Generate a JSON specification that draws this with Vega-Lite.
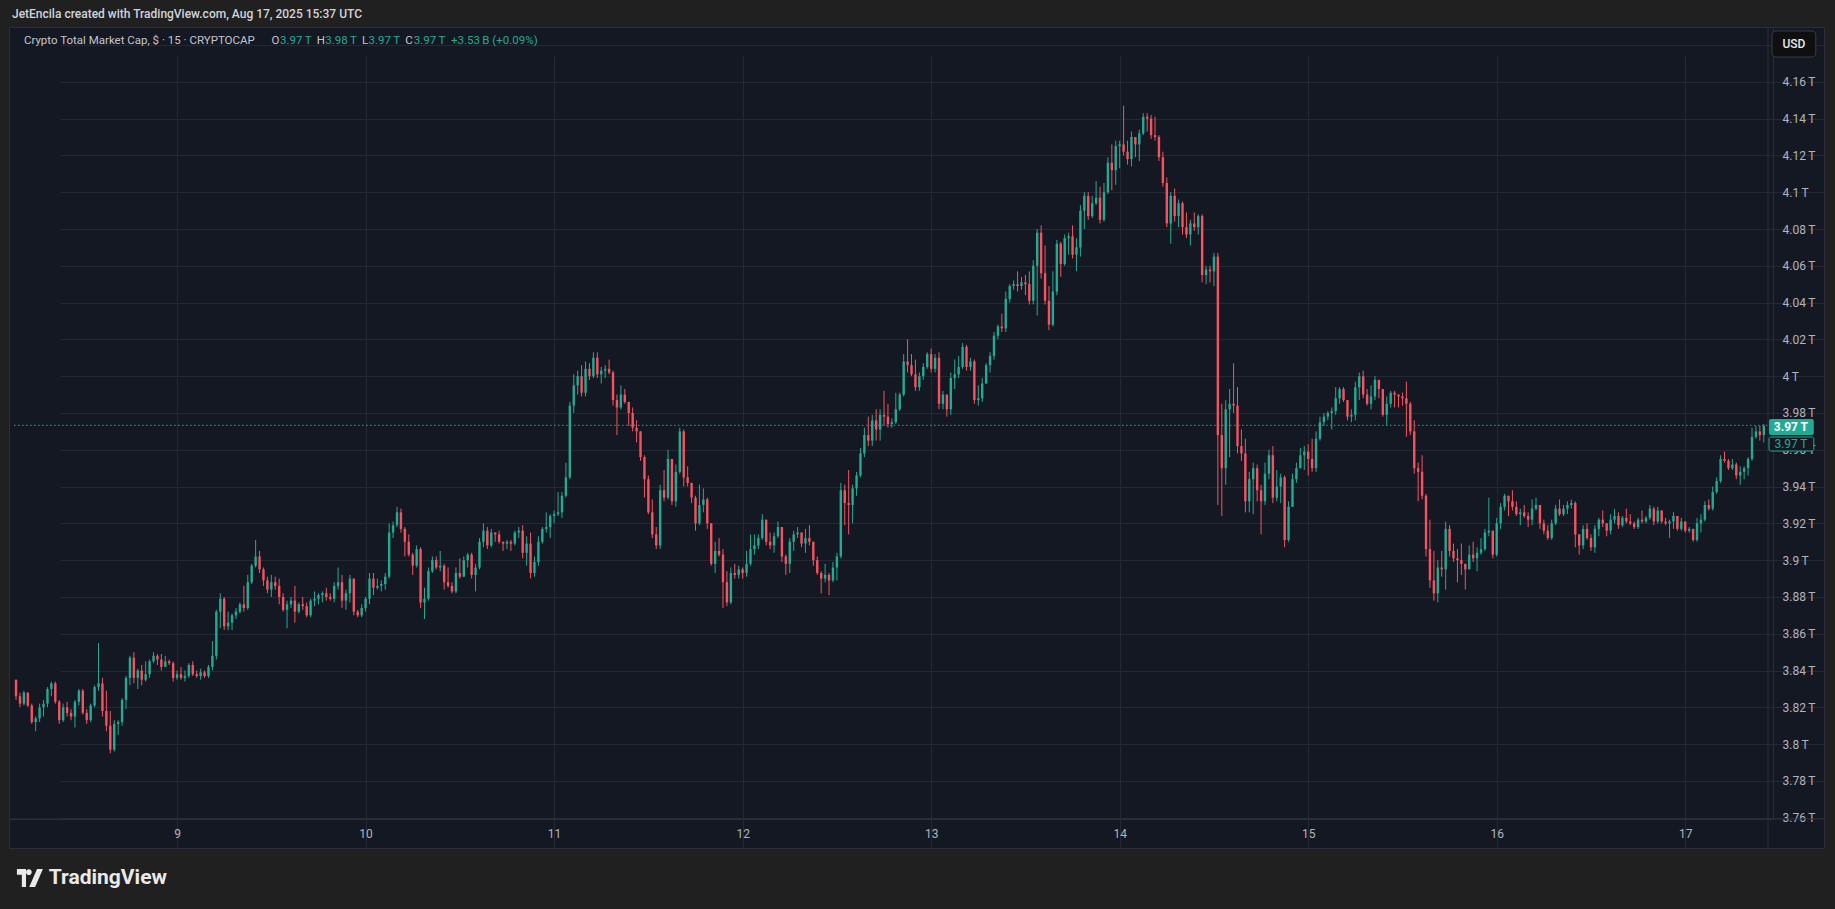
{
  "$schema": "https://vega.github.io/schema/vega-lite/v6.json",
  "autosize": {"type": "none"},
  "width": 1815,
  "height": 821,
  "padding": {"left": 9, "top": 27, "right": 11, "bottom": 61},
  "background": "#202020",
  "title": {
    "text": "JetEncila created with TradingView.com, Aug 17, 2025 15:37 UTC",
    "anchor": "start",
    "frame": "group",
    "offset": 6,
    "dx": 3,
    "font": "Roboto",
    "fontSize": 12,
    "fontWeight": 500,
    "color": "#d1d4dc"
  },
  "config": {
    "font": "Roboto",
    "view": {"fill": "#141823", "stroke": "#2a2e39", "strokeWidth": 1}
  },
  "datasets": {
    "candles": [
      {"day":8.1458,"o":3.835,"h":3.835,"l":3.824,"c":3.826},
      {"day":8.1667,"o":3.826,"h":3.828,"l":3.820,"c":3.822},
      {"day":8.1875,"o":3.822,"h":3.829,"l":3.821,"c":3.828},
      {"day":8.2083,"o":3.828,"h":3.828,"l":3.820,"c":3.821},
      {"day":8.2292,"o":3.821,"h":3.822,"l":3.811,"c":3.812},
      {"day":8.25,"o":3.812,"h":3.815,"l":3.807,"c":3.814},
      {"day":8.2708,"o":3.814,"h":3.822,"l":3.812,"c":3.820},
      {"day":8.2917,"o":3.820,"h":3.824,"l":3.815,"c":3.822},
      {"day":8.3125,"o":3.822,"h":3.831,"l":3.820,"c":3.830},
      {"day":8.3333,"o":3.830,"h":3.834,"l":3.826,"c":3.833},
      {"day":8.3542,"o":3.833,"h":3.834,"l":3.822,"c":3.823},
      {"day":8.375,"o":3.823,"h":3.824,"l":3.811,"c":3.813},
      {"day":8.3958,"o":3.813,"h":3.822,"l":3.812,"c":3.820},
      {"day":8.4167,"o":3.820,"h":3.823,"l":3.815,"c":3.817},
      {"day":8.4375,"o":3.817,"h":3.819,"l":3.813,"c":3.815},
      {"day":8.4583,"o":3.815,"h":3.824,"l":3.809,"c":3.823},
      {"day":8.4792,"o":3.823,"h":3.830,"l":3.821,"c":3.829},
      {"day":8.5,"o":3.829,"h":3.830,"l":3.816,"c":3.817},
      {"day":8.5208,"o":3.817,"h":3.819,"l":3.811,"c":3.813},
      {"day":8.5417,"o":3.813,"h":3.822,"l":3.812,"c":3.821},
      {"day":8.5625,"o":3.821,"h":3.832,"l":3.820,"c":3.831},
      {"day":8.5833,"o":3.831,"h":3.855,"l":3.829,"c":3.833},
      {"day":8.6042,"o":3.833,"h":3.836,"l":3.815,"c":3.818},
      {"day":8.625,"o":3.818,"h":3.829,"l":3.807,"c":3.810},
      {"day":8.6458,"o":3.810,"h":3.818,"l":3.795,"c":3.797},
      {"day":8.6667,"o":3.797,"h":3.813,"l":3.796,"c":3.811},
      {"day":8.6875,"o":3.811,"h":3.813,"l":3.805,"c":3.812},
      {"day":8.7083,"o":3.812,"h":3.825,"l":3.810,"c":3.824},
      {"day":8.7292,"o":3.824,"h":3.837,"l":3.819,"c":3.836},
      {"day":8.75,"o":3.836,"h":3.848,"l":3.832,"c":3.847},
      {"day":8.7708,"o":3.847,"h":3.850,"l":3.833,"c":3.836},
      {"day":8.7917,"o":3.836,"h":3.841,"l":3.830,"c":3.840},
      {"day":8.8125,"o":3.840,"h":3.843,"l":3.832,"c":3.835},
      {"day":8.8333,"o":3.835,"h":3.845,"l":3.834,"c":3.838},
      {"day":8.8542,"o":3.838,"h":3.846,"l":3.836,"c":3.845},
      {"day":8.875,"o":3.845,"h":3.850,"l":3.844,"c":3.848},
      {"day":8.8958,"o":3.848,"h":3.849,"l":3.843,"c":3.846},
      {"day":8.9167,"o":3.846,"h":3.849,"l":3.840,"c":3.842},
      {"day":8.9375,"o":3.842,"h":3.848,"l":3.842,"c":3.845},
      {"day":8.9583,"o":3.845,"h":3.846,"l":3.843,"c":3.844},
      {"day":8.9792,"o":3.844,"h":3.845,"l":3.834,"c":3.836},
      {"day":9.0,"o":3.836,"h":3.840,"l":3.835,"c":3.838},
      {"day":9.0208,"o":3.838,"h":3.842,"l":3.835,"c":3.836},
      {"day":9.0417,"o":3.836,"h":3.840,"l":3.834,"c":3.837},
      {"day":9.0625,"o":3.837,"h":3.844,"l":3.836,"c":3.843},
      {"day":9.0833,"o":3.843,"h":3.845,"l":3.837,"c":3.838},
      {"day":9.1042,"o":3.838,"h":3.840,"l":3.836,"c":3.837},
      {"day":9.125,"o":3.837,"h":3.841,"l":3.835,"c":3.839},
      {"day":9.1458,"o":3.839,"h":3.840,"l":3.836,"c":3.837},
      {"day":9.1667,"o":3.837,"h":3.843,"l":3.836,"c":3.842},
      {"day":9.1875,"o":3.842,"h":3.856,"l":3.840,"c":3.848},
      {"day":9.2083,"o":3.848,"h":3.873,"l":3.846,"c":3.872},
      {"day":9.2292,"o":3.872,"h":3.882,"l":3.863,"c":3.879},
      {"day":9.25,"o":3.879,"h":3.880,"l":3.862,"c":3.864},
      {"day":9.2708,"o":3.864,"h":3.872,"l":3.862,"c":3.866},
      {"day":9.2917,"o":3.866,"h":3.871,"l":3.862,"c":3.870},
      {"day":9.3125,"o":3.870,"h":3.874,"l":3.868,"c":3.872},
      {"day":9.3333,"o":3.872,"h":3.877,"l":3.871,"c":3.876},
      {"day":9.3542,"o":3.876,"h":3.886,"l":3.872,"c":3.874},
      {"day":9.375,"o":3.874,"h":3.892,"l":3.873,"c":3.888},
      {"day":9.3958,"o":3.888,"h":3.898,"l":3.887,"c":3.897},
      {"day":9.4167,"o":3.897,"h":3.911,"l":3.896,"c":3.902},
      {"day":9.4375,"o":3.902,"h":3.905,"l":3.893,"c":3.895},
      {"day":9.4583,"o":3.895,"h":3.896,"l":3.886,"c":3.889},
      {"day":9.4792,"o":3.889,"h":3.891,"l":3.882,"c":3.884},
      {"day":9.5,"o":3.884,"h":3.892,"l":3.880,"c":3.888},
      {"day":9.5208,"o":3.888,"h":3.891,"l":3.884,"c":3.886},
      {"day":9.5417,"o":3.886,"h":3.890,"l":3.876,"c":3.880},
      {"day":9.5625,"o":3.880,"h":3.882,"l":3.872,"c":3.873},
      {"day":9.5833,"o":3.873,"h":3.878,"l":3.863,"c":3.876},
      {"day":9.6042,"o":3.876,"h":3.880,"l":3.874,"c":3.878},
      {"day":9.625,"o":3.878,"h":3.886,"l":3.866,"c":3.872},
      {"day":9.6458,"o":3.872,"h":3.877,"l":3.871,"c":3.876},
      {"day":9.6667,"o":3.876,"h":3.880,"l":3.873,"c":3.875},
      {"day":9.6875,"o":3.875,"h":3.877,"l":3.869,"c":3.870},
      {"day":9.7083,"o":3.870,"h":3.879,"l":3.869,"c":3.878},
      {"day":9.7292,"o":3.878,"h":3.883,"l":3.875,"c":3.879},
      {"day":9.75,"o":3.879,"h":3.882,"l":3.876,"c":3.881},
      {"day":9.7708,"o":3.881,"h":3.883,"l":3.877,"c":3.882},
      {"day":9.7917,"o":3.882,"h":3.885,"l":3.878,"c":3.880},
      {"day":9.8125,"o":3.880,"h":3.882,"l":3.878,"c":3.879},
      {"day":9.8333,"o":3.879,"h":3.888,"l":3.877,"c":3.886},
      {"day":9.8542,"o":3.886,"h":3.896,"l":3.884,"c":3.888},
      {"day":9.875,"o":3.888,"h":3.892,"l":3.874,"c":3.878},
      {"day":9.8958,"o":3.878,"h":3.884,"l":3.873,"c":3.882},
      {"day":9.9167,"o":3.882,"h":3.892,"l":3.877,"c":3.890},
      {"day":9.9375,"o":3.890,"h":3.890,"l":3.870,"c":3.872},
      {"day":9.9583,"o":3.872,"h":3.873,"l":3.869,"c":3.870},
      {"day":9.9792,"o":3.870,"h":3.876,"l":3.869,"c":3.874},
      {"day":10.0,"o":3.874,"h":3.880,"l":3.872,"c":3.879},
      {"day":10.0208,"o":3.879,"h":3.893,"l":3.876,"c":3.890},
      {"day":10.0417,"o":3.890,"h":3.893,"l":3.881,"c":3.885},
      {"day":10.0625,"o":3.885,"h":3.890,"l":3.884,"c":3.886},
      {"day":10.0833,"o":3.886,"h":3.889,"l":3.883,"c":3.887},
      {"day":10.1042,"o":3.887,"h":3.893,"l":3.884,"c":3.891},
      {"day":10.125,"o":3.891,"h":3.920,"l":3.890,"c":3.915},
      {"day":10.1458,"o":3.915,"h":3.921,"l":3.912,"c":3.919},
      {"day":10.1667,"o":3.919,"h":3.929,"l":3.918,"c":3.926},
      {"day":10.1875,"o":3.926,"h":3.928,"l":3.915,"c":3.917},
      {"day":10.2083,"o":3.917,"h":3.918,"l":3.902,"c":3.910},
      {"day":10.2292,"o":3.910,"h":3.914,"l":3.902,"c":3.903},
      {"day":10.25,"o":3.903,"h":3.904,"l":3.892,"c":3.897},
      {"day":10.2708,"o":3.897,"h":3.908,"l":3.896,"c":3.906},
      {"day":10.2917,"o":3.906,"h":3.907,"l":3.874,"c":3.877},
      {"day":10.3125,"o":3.877,"h":3.885,"l":3.868,"c":3.879},
      {"day":10.3333,"o":3.879,"h":3.896,"l":3.878,"c":3.894},
      {"day":10.3542,"o":3.894,"h":3.902,"l":3.893,"c":3.900},
      {"day":10.375,"o":3.900,"h":3.902,"l":3.895,"c":3.896},
      {"day":10.3958,"o":3.896,"h":3.905,"l":3.894,"c":3.897},
      {"day":10.4167,"o":3.897,"h":3.898,"l":3.884,"c":3.888},
      {"day":10.4375,"o":3.888,"h":3.896,"l":3.885,"c":3.886},
      {"day":10.4583,"o":3.886,"h":3.888,"l":3.882,"c":3.883},
      {"day":10.4792,"o":3.883,"h":3.896,"l":3.882,"c":3.893},
      {"day":10.5,"o":3.893,"h":3.901,"l":3.890,"c":3.891},
      {"day":10.5208,"o":3.891,"h":3.902,"l":3.891,"c":3.900},
      {"day":10.5417,"o":3.900,"h":3.904,"l":3.896,"c":3.903},
      {"day":10.5625,"o":3.903,"h":3.904,"l":3.890,"c":3.892},
      {"day":10.5833,"o":3.892,"h":3.898,"l":3.883,"c":3.896},
      {"day":10.6042,"o":3.896,"h":3.912,"l":3.895,"c":3.910},
      {"day":10.625,"o":3.910,"h":3.920,"l":3.907,"c":3.916},
      {"day":10.6458,"o":3.916,"h":3.918,"l":3.906,"c":3.908},
      {"day":10.6667,"o":3.908,"h":3.917,"l":3.907,"c":3.915},
      {"day":10.6875,"o":3.915,"h":3.915,"l":3.910,"c":3.914},
      {"day":10.7083,"o":3.914,"h":3.916,"l":3.909,"c":3.910},
      {"day":10.7292,"o":3.910,"h":3.910,"l":3.905,"c":3.909},
      {"day":10.75,"o":3.909,"h":3.911,"l":3.906,"c":3.910},
      {"day":10.7708,"o":3.910,"h":3.911,"l":3.905,"c":3.909},
      {"day":10.7917,"o":3.909,"h":3.916,"l":3.908,"c":3.915},
      {"day":10.8125,"o":3.915,"h":3.918,"l":3.912,"c":3.916},
      {"day":10.8333,"o":3.916,"h":3.919,"l":3.901,"c":3.904},
      {"day":10.8542,"o":3.904,"h":3.913,"l":3.897,"c":3.909},
      {"day":10.875,"o":3.909,"h":3.915,"l":3.890,"c":3.893},
      {"day":10.8958,"o":3.893,"h":3.902,"l":3.891,"c":3.899},
      {"day":10.9167,"o":3.899,"h":3.913,"l":3.897,"c":3.910},
      {"day":10.9375,"o":3.910,"h":3.918,"l":3.909,"c":3.917},
      {"day":10.9583,"o":3.917,"h":3.926,"l":3.915,"c":3.918},
      {"day":10.9792,"o":3.918,"h":3.925,"l":3.912,"c":3.924},
      {"day":11.0,"o":3.924,"h":3.927,"l":3.920,"c":3.925},
      {"day":11.0208,"o":3.925,"h":3.937,"l":3.924,"c":3.926},
      {"day":11.0417,"o":3.926,"h":3.937,"l":3.923,"c":3.935},
      {"day":11.0625,"o":3.935,"h":3.953,"l":3.934,"c":3.945},
      {"day":11.0833,"o":3.945,"h":3.986,"l":3.944,"c":3.984},
      {"day":11.1042,"o":3.984,"h":4.001,"l":3.980,"c":3.995},
      {"day":11.125,"o":3.995,"h":4.003,"l":3.990,"c":4.000},
      {"day":11.1458,"o":4.000,"h":4.006,"l":3.989,"c":3.991},
      {"day":11.1667,"o":3.991,"h":4.008,"l":3.989,"c":4.004},
      {"day":11.1875,"o":4.004,"h":4.007,"l":3.998,"c":4.000},
      {"day":11.2083,"o":4.000,"h":4.013,"l":3.999,"c":4.010},
      {"day":11.2292,"o":4.010,"h":4.013,"l":3.999,"c":4.001},
      {"day":11.25,"o":4.001,"h":4.005,"l":3.996,"c":4.003},
      {"day":11.2708,"o":4.003,"h":4.006,"l":3.999,"c":4.004},
      {"day":11.2917,"o":4.004,"h":4.009,"l":4.001,"c":4.002},
      {"day":11.3125,"o":4.002,"h":4.003,"l":3.984,"c":3.987},
      {"day":11.3333,"o":3.987,"h":3.990,"l":3.968,"c":3.983},
      {"day":11.3542,"o":3.983,"h":3.995,"l":3.982,"c":3.990},
      {"day":11.375,"o":3.990,"h":3.993,"l":3.985,"c":3.986},
      {"day":11.3958,"o":3.986,"h":3.986,"l":3.973,"c":3.980},
      {"day":11.4167,"o":3.980,"h":3.983,"l":3.970,"c":3.972},
      {"day":11.4375,"o":3.972,"h":3.976,"l":3.964,"c":3.970},
      {"day":11.4583,"o":3.970,"h":3.970,"l":3.954,"c":3.956},
      {"day":11.4792,"o":3.956,"h":3.957,"l":3.934,"c":3.944},
      {"day":11.5,"o":3.944,"h":3.946,"l":3.925,"c":3.926},
      {"day":11.5208,"o":3.926,"h":3.933,"l":3.912,"c":3.914},
      {"day":11.5417,"o":3.914,"h":3.918,"l":3.906,"c":3.908},
      {"day":11.5625,"o":3.908,"h":3.941,"l":3.906,"c":3.938},
      {"day":11.5833,"o":3.938,"h":3.949,"l":3.932,"c":3.934},
      {"day":11.6042,"o":3.934,"h":3.960,"l":3.933,"c":3.955},
      {"day":11.625,"o":3.955,"h":3.955,"l":3.930,"c":3.932},
      {"day":11.6458,"o":3.932,"h":3.952,"l":3.929,"c":3.948},
      {"day":11.6667,"o":3.948,"h":3.972,"l":3.947,"c":3.970},
      {"day":11.6875,"o":3.970,"h":3.971,"l":3.940,"c":3.945},
      {"day":11.7083,"o":3.945,"h":3.951,"l":3.940,"c":3.942},
      {"day":11.7292,"o":3.942,"h":3.942,"l":3.931,"c":3.934},
      {"day":11.75,"o":3.934,"h":3.935,"l":3.916,"c":3.920},
      {"day":11.7708,"o":3.920,"h":3.941,"l":3.919,"c":3.930},
      {"day":11.7917,"o":3.930,"h":3.939,"l":3.926,"c":3.933},
      {"day":11.8125,"o":3.933,"h":3.934,"l":3.917,"c":3.920},
      {"day":11.8333,"o":3.920,"h":3.920,"l":3.897,"c":3.898},
      {"day":11.8542,"o":3.898,"h":3.910,"l":3.893,"c":3.905},
      {"day":11.875,"o":3.905,"h":3.912,"l":3.902,"c":3.903},
      {"day":11.8958,"o":3.903,"h":3.906,"l":3.874,"c":3.888},
      {"day":11.9167,"o":3.888,"h":3.894,"l":3.875,"c":3.877},
      {"day":11.9375,"o":3.877,"h":3.896,"l":3.876,"c":3.893},
      {"day":11.9583,"o":3.893,"h":3.898,"l":3.890,"c":3.892},
      {"day":11.9792,"o":3.892,"h":3.897,"l":3.890,"c":3.895},
      {"day":12.0,"o":3.895,"h":3.896,"l":3.890,"c":3.893},
      {"day":12.0208,"o":3.893,"h":3.905,"l":3.891,"c":3.898},
      {"day":12.0417,"o":3.898,"h":3.914,"l":3.897,"c":3.906},
      {"day":12.0625,"o":3.906,"h":3.914,"l":3.903,"c":3.908},
      {"day":12.0833,"o":3.908,"h":3.914,"l":3.906,"c":3.912},
      {"day":12.1042,"o":3.912,"h":3.925,"l":3.911,"c":3.922},
      {"day":12.125,"o":3.922,"h":3.922,"l":3.908,"c":3.910},
      {"day":12.1458,"o":3.910,"h":3.915,"l":3.906,"c":3.908},
      {"day":12.1667,"o":3.908,"h":3.915,"l":3.904,"c":3.913},
      {"day":12.1875,"o":3.913,"h":3.921,"l":3.912,"c":3.918},
      {"day":12.2083,"o":3.918,"h":3.918,"l":3.899,"c":3.902},
      {"day":12.2292,"o":3.902,"h":3.903,"l":3.892,"c":3.898},
      {"day":12.25,"o":3.898,"h":3.912,"l":3.893,"c":3.910},
      {"day":12.2708,"o":3.910,"h":3.916,"l":3.905,"c":3.914},
      {"day":12.2917,"o":3.914,"h":3.918,"l":3.912,"c":3.915},
      {"day":12.3125,"o":3.915,"h":3.915,"l":3.907,"c":3.909},
      {"day":12.3333,"o":3.909,"h":3.917,"l":3.904,"c":3.912},
      {"day":12.3542,"o":3.912,"h":3.919,"l":3.908,"c":3.910},
      {"day":12.375,"o":3.910,"h":3.910,"l":3.897,"c":3.900},
      {"day":12.3958,"o":3.900,"h":3.902,"l":3.892,"c":3.893},
      {"day":12.4167,"o":3.893,"h":3.894,"l":3.882,"c":3.890},
      {"day":12.4375,"o":3.890,"h":3.898,"l":3.888,"c":3.892},
      {"day":12.4583,"o":3.892,"h":3.893,"l":3.881,"c":3.889},
      {"day":12.4792,"o":3.889,"h":3.899,"l":3.888,"c":3.896},
      {"day":12.5,"o":3.896,"h":3.904,"l":3.889,"c":3.902},
      {"day":12.5208,"o":3.902,"h":3.942,"l":3.901,"c":3.938},
      {"day":12.5417,"o":3.938,"h":3.941,"l":3.919,"c":3.931},
      {"day":12.5625,"o":3.931,"h":3.949,"l":3.914,"c":3.930},
      {"day":12.5833,"o":3.930,"h":3.941,"l":3.920,"c":3.939},
      {"day":12.6042,"o":3.939,"h":3.948,"l":3.935,"c":3.946},
      {"day":12.625,"o":3.946,"h":3.961,"l":3.945,"c":3.958},
      {"day":12.6458,"o":3.958,"h":3.972,"l":3.956,"c":3.968},
      {"day":12.6667,"o":3.968,"h":3.978,"l":3.962,"c":3.965},
      {"day":12.6875,"o":3.965,"h":3.979,"l":3.962,"c":3.976},
      {"day":12.7083,"o":3.976,"h":3.982,"l":3.965,"c":3.971},
      {"day":12.7292,"o":3.971,"h":3.982,"l":3.965,"c":3.979},
      {"day":12.75,"o":3.979,"h":3.992,"l":3.973,"c":3.978},
      {"day":12.7708,"o":3.978,"h":3.985,"l":3.972,"c":3.974},
      {"day":12.7917,"o":3.974,"h":3.977,"l":3.972,"c":3.975},
      {"day":12.8125,"o":3.975,"h":3.991,"l":3.974,"c":3.982},
      {"day":12.8333,"o":3.982,"h":3.991,"l":3.981,"c":3.990},
      {"day":12.8542,"o":3.990,"h":4.012,"l":3.989,"c":4.008},
      {"day":12.875,"o":4.008,"h":4.020,"l":4.002,"c":4.006},
      {"day":12.8958,"o":4.006,"h":4.012,"l":4.000,"c":4.001},
      {"day":12.9167,"o":4.001,"h":4.009,"l":3.992,"c":3.994},
      {"day":12.9375,"o":3.994,"h":4.002,"l":3.992,"c":4.000},
      {"day":12.9583,"o":4.000,"h":4.007,"l":3.998,"c":4.005},
      {"day":12.9792,"o":4.005,"h":4.013,"l":4.004,"c":4.012},
      {"day":13.0,"o":4.012,"h":4.015,"l":4.002,"c":4.004},
      {"day":13.0208,"o":4.004,"h":4.012,"l":4.002,"c":4.010},
      {"day":13.0417,"o":4.010,"h":4.013,"l":3.982,"c":3.985},
      {"day":13.0625,"o":3.985,"h":3.992,"l":3.982,"c":3.990},
      {"day":13.0833,"o":3.990,"h":3.990,"l":3.978,"c":3.982},
      {"day":13.1042,"o":3.982,"h":4.002,"l":3.979,"c":3.999},
      {"day":13.125,"o":3.999,"h":4.009,"l":3.993,"c":4.001},
      {"day":13.1458,"o":4.001,"h":4.011,"l":3.999,"c":4.005},
      {"day":13.1667,"o":4.005,"h":4.018,"l":4.004,"c":4.016},
      {"day":13.1875,"o":4.016,"h":4.017,"l":4.003,"c":4.005},
      {"day":13.2083,"o":4.005,"h":4.010,"l":4.003,"c":4.008},
      {"day":13.2292,"o":4.008,"h":4.009,"l":3.985,"c":3.987},
      {"day":13.25,"o":3.987,"h":3.995,"l":3.984,"c":3.988},
      {"day":13.2708,"o":3.988,"h":3.999,"l":3.986,"c":3.996},
      {"day":13.2917,"o":3.996,"h":4.007,"l":3.996,"c":4.006},
      {"day":13.3125,"o":4.006,"h":4.013,"l":4.002,"c":4.011},
      {"day":13.3333,"o":4.011,"h":4.024,"l":4.009,"c":4.022},
      {"day":13.3542,"o":4.022,"h":4.028,"l":4.020,"c":4.027},
      {"day":13.375,"o":4.027,"h":4.034,"l":4.024,"c":4.026},
      {"day":13.3958,"o":4.026,"h":4.046,"l":4.024,"c":4.042},
      {"day":13.4167,"o":4.042,"h":4.050,"l":4.040,"c":4.049},
      {"day":13.4375,"o":4.049,"h":4.052,"l":4.047,"c":4.050},
      {"day":13.4583,"o":4.050,"h":4.057,"l":4.046,"c":4.049},
      {"day":13.4792,"o":4.049,"h":4.054,"l":4.047,"c":4.051},
      {"day":13.5,"o":4.051,"h":4.055,"l":4.044,"c":4.050},
      {"day":13.5208,"o":4.050,"h":4.057,"l":4.039,"c":4.041},
      {"day":13.5417,"o":4.041,"h":4.063,"l":4.039,"c":4.060},
      {"day":13.5625,"o":4.060,"h":4.080,"l":4.033,"c":4.078},
      {"day":13.5833,"o":4.078,"h":4.082,"l":4.053,"c":4.056},
      {"day":13.6042,"o":4.056,"h":4.071,"l":4.039,"c":4.041},
      {"day":13.625,"o":4.041,"h":4.049,"l":4.025,"c":4.028},
      {"day":13.6458,"o":4.028,"h":4.057,"l":4.027,"c":4.046},
      {"day":13.6667,"o":4.046,"h":4.074,"l":4.044,"c":4.072},
      {"day":13.6875,"o":4.072,"h":4.073,"l":4.054,"c":4.061},
      {"day":13.7083,"o":4.061,"h":4.077,"l":4.060,"c":4.075},
      {"day":13.7292,"o":4.075,"h":4.078,"l":4.066,"c":4.076},
      {"day":13.75,"o":4.076,"h":4.082,"l":4.064,"c":4.066},
      {"day":13.7708,"o":4.066,"h":4.075,"l":4.057,"c":4.070},
      {"day":13.7917,"o":4.070,"h":4.093,"l":4.065,"c":4.090},
      {"day":13.8125,"o":4.090,"h":4.100,"l":4.080,"c":4.098},
      {"day":13.8333,"o":4.098,"h":4.100,"l":4.085,"c":4.087},
      {"day":13.8542,"o":4.087,"h":4.098,"l":4.086,"c":4.094},
      {"day":13.875,"o":4.094,"h":4.106,"l":4.093,"c":4.097},
      {"day":13.8958,"o":4.097,"h":4.103,"l":4.083,"c":4.085},
      {"day":13.9167,"o":4.085,"h":4.105,"l":4.084,"c":4.100},
      {"day":13.9375,"o":4.100,"h":4.119,"l":4.099,"c":4.116},
      {"day":13.9583,"o":4.116,"h":4.126,"l":4.101,"c":4.112},
      {"day":13.9792,"o":4.112,"h":4.128,"l":4.104,"c":4.125},
      {"day":14.0,"o":4.125,"h":4.128,"l":4.113,"c":4.126},
      {"day":14.0208,"o":4.126,"h":4.147,"l":4.120,"c":4.122},
      {"day":14.0417,"o":4.122,"h":4.128,"l":4.115,"c":4.118},
      {"day":14.0625,"o":4.118,"h":4.133,"l":4.114,"c":4.130},
      {"day":14.0833,"o":4.130,"h":4.130,"l":4.119,"c":4.126},
      {"day":14.1042,"o":4.126,"h":4.134,"l":4.117,"c":4.132},
      {"day":14.125,"o":4.132,"h":4.143,"l":4.131,"c":4.141},
      {"day":14.1458,"o":4.141,"h":4.143,"l":4.133,"c":4.140},
      {"day":14.1667,"o":4.140,"h":4.142,"l":4.129,"c":4.131},
      {"day":14.1875,"o":4.131,"h":4.141,"l":4.128,"c":4.130},
      {"day":14.2083,"o":4.130,"h":4.131,"l":4.117,"c":4.119},
      {"day":14.2292,"o":4.119,"h":4.122,"l":4.103,"c":4.105},
      {"day":14.25,"o":4.105,"h":4.108,"l":4.081,"c":4.083},
      {"day":14.2708,"o":4.083,"h":4.100,"l":4.072,"c":4.098},
      {"day":14.2917,"o":4.098,"h":4.102,"l":4.084,"c":4.087},
      {"day":14.3125,"o":4.087,"h":4.096,"l":4.081,"c":4.094},
      {"day":14.3333,"o":4.094,"h":4.095,"l":4.077,"c":4.081},
      {"day":14.3542,"o":4.081,"h":4.089,"l":4.075,"c":4.077},
      {"day":14.375,"o":4.077,"h":4.085,"l":4.071,"c":4.083},
      {"day":14.3958,"o":4.083,"h":4.089,"l":4.079,"c":4.081},
      {"day":14.4167,"o":4.081,"h":4.088,"l":4.077,"c":4.087},
      {"day":14.4375,"o":4.087,"h":4.088,"l":4.051,"c":4.055},
      {"day":14.4583,"o":4.055,"h":4.060,"l":4.050,"c":4.058},
      {"day":14.4792,"o":4.058,"h":4.060,"l":4.051,"c":4.057},
      {"day":14.5,"o":4.057,"h":4.067,"l":4.049,"c":4.065},
      {"day":14.5208,"o":4.065,"h":4.067,"l":3.930,"c":3.968},
      {"day":14.5417,"o":3.968,"h":3.985,"l":3.924,"c":3.950},
      {"day":14.5625,"o":3.950,"h":3.987,"l":3.941,"c":3.982},
      {"day":14.5833,"o":3.982,"h":3.993,"l":3.956,"c":3.985},
      {"day":14.6042,"o":3.985,"h":4.007,"l":3.980,"c":3.984},
      {"day":14.625,"o":3.984,"h":3.994,"l":3.958,"c":3.962},
      {"day":14.6458,"o":3.962,"h":3.971,"l":3.954,"c":3.958},
      {"day":14.6667,"o":3.958,"h":3.966,"l":3.926,"c":3.932},
      {"day":14.6875,"o":3.932,"h":3.948,"l":3.926,"c":3.944},
      {"day":14.7083,"o":3.944,"h":3.953,"l":3.925,"c":3.950},
      {"day":14.7292,"o":3.950,"h":3.952,"l":3.932,"c":3.938},
      {"day":14.75,"o":3.938,"h":3.941,"l":3.914,"c":3.932},
      {"day":14.7708,"o":3.932,"h":3.953,"l":3.930,"c":3.947},
      {"day":14.7917,"o":3.947,"h":3.960,"l":3.944,"c":3.957},
      {"day":14.8125,"o":3.957,"h":3.962,"l":3.931,"c":3.934},
      {"day":14.8333,"o":3.934,"h":3.949,"l":3.932,"c":3.940},
      {"day":14.8542,"o":3.940,"h":3.947,"l":3.931,"c":3.945},
      {"day":14.875,"o":3.945,"h":3.946,"l":3.907,"c":3.911},
      {"day":14.8958,"o":3.911,"h":3.932,"l":3.910,"c":3.929},
      {"day":14.9167,"o":3.929,"h":3.947,"l":3.929,"c":3.944},
      {"day":14.9375,"o":3.944,"h":3.953,"l":3.942,"c":3.950},
      {"day":14.9583,"o":3.950,"h":3.961,"l":3.950,"c":3.957},
      {"day":14.9792,"o":3.957,"h":3.962,"l":3.949,"c":3.959},
      {"day":15.0,"o":3.959,"h":3.963,"l":3.946,"c":3.955},
      {"day":15.0208,"o":3.955,"h":3.966,"l":3.948,"c":3.950},
      {"day":15.0417,"o":3.950,"h":3.970,"l":3.948,"c":3.966},
      {"day":15.0625,"o":3.966,"h":3.978,"l":3.965,"c":3.975},
      {"day":15.0833,"o":3.975,"h":3.980,"l":3.973,"c":3.978},
      {"day":15.1042,"o":3.978,"h":3.981,"l":3.976,"c":3.980},
      {"day":15.125,"o":3.980,"h":3.983,"l":3.971,"c":3.981},
      {"day":15.1458,"o":3.981,"h":3.994,"l":3.979,"c":3.988},
      {"day":15.1667,"o":3.988,"h":3.994,"l":3.985,"c":3.993},
      {"day":15.1875,"o":3.993,"h":3.994,"l":3.986,"c":3.987},
      {"day":15.2083,"o":3.987,"h":3.987,"l":3.976,"c":3.978},
      {"day":15.2292,"o":3.978,"h":3.982,"l":3.975,"c":3.979},
      {"day":15.25,"o":3.979,"h":3.997,"l":3.976,"c":3.994},
      {"day":15.2708,"o":3.994,"h":4.002,"l":3.987,"c":4.000},
      {"day":15.2917,"o":4.000,"h":4.003,"l":3.988,"c":3.990},
      {"day":15.3125,"o":3.990,"h":3.993,"l":3.984,"c":3.985},
      {"day":15.3333,"o":3.985,"h":3.995,"l":3.982,"c":3.989},
      {"day":15.3542,"o":3.989,"h":4.000,"l":3.987,"c":3.998},
      {"day":15.375,"o":3.998,"h":3.998,"l":3.988,"c":3.993},
      {"day":15.3958,"o":3.993,"h":3.993,"l":3.978,"c":3.979},
      {"day":15.4167,"o":3.979,"h":3.989,"l":3.973,"c":3.985},
      {"day":15.4375,"o":3.985,"h":3.992,"l":3.983,"c":3.991},
      {"day":15.4583,"o":3.991,"h":3.992,"l":3.983,"c":3.990},
      {"day":15.4792,"o":3.990,"h":3.990,"l":3.983,"c":3.989},
      {"day":15.5,"o":3.989,"h":3.991,"l":3.984,"c":3.988},
      {"day":15.5208,"o":3.988,"h":3.997,"l":3.967,"c":3.985},
      {"day":15.5417,"o":3.985,"h":3.986,"l":3.968,"c":3.970},
      {"day":15.5625,"o":3.970,"h":3.976,"l":3.947,"c":3.950},
      {"day":15.5833,"o":3.950,"h":3.953,"l":3.932,"c":3.948},
      {"day":15.6042,"o":3.948,"h":3.957,"l":3.933,"c":3.935},
      {"day":15.625,"o":3.935,"h":3.936,"l":3.902,"c":3.906},
      {"day":15.6458,"o":3.906,"h":3.922,"l":3.885,"c":3.889},
      {"day":15.6667,"o":3.889,"h":3.905,"l":3.878,"c":3.882},
      {"day":15.6875,"o":3.882,"h":3.900,"l":3.877,"c":3.896},
      {"day":15.7083,"o":3.896,"h":3.905,"l":3.891,"c":3.895},
      {"day":15.7292,"o":3.895,"h":3.921,"l":3.884,"c":3.917},
      {"day":15.75,"o":3.917,"h":3.919,"l":3.902,"c":3.905},
      {"day":15.7708,"o":3.905,"h":3.909,"l":3.899,"c":3.901},
      {"day":15.7917,"o":3.901,"h":3.906,"l":3.888,"c":3.900},
      {"day":15.8125,"o":3.900,"h":3.909,"l":3.892,"c":3.898},
      {"day":15.8333,"o":3.898,"h":3.898,"l":3.884,"c":3.895},
      {"day":15.8542,"o":3.895,"h":3.908,"l":3.895,"c":3.903},
      {"day":15.875,"o":3.903,"h":3.910,"l":3.899,"c":3.901},
      {"day":15.8958,"o":3.901,"h":3.907,"l":3.894,"c":3.904},
      {"day":15.9167,"o":3.904,"h":3.912,"l":3.903,"c":3.906},
      {"day":15.9375,"o":3.906,"h":3.917,"l":3.905,"c":3.915},
      {"day":15.9583,"o":3.915,"h":3.934,"l":3.913,"c":3.916},
      {"day":15.9792,"o":3.916,"h":3.916,"l":3.901,"c":3.903},
      {"day":16.0,"o":3.903,"h":3.923,"l":3.902,"c":3.920},
      {"day":16.0208,"o":3.920,"h":3.931,"l":3.917,"c":3.929},
      {"day":16.0417,"o":3.929,"h":3.936,"l":3.927,"c":3.935},
      {"day":16.0625,"o":3.935,"h":3.935,"l":3.924,"c":3.932},
      {"day":16.0833,"o":3.932,"h":3.938,"l":3.927,"c":3.929},
      {"day":16.1042,"o":3.929,"h":3.932,"l":3.924,"c":3.925},
      {"day":16.125,"o":3.925,"h":3.928,"l":3.919,"c":3.926},
      {"day":16.1458,"o":3.926,"h":3.930,"l":3.923,"c":3.924},
      {"day":16.1667,"o":3.924,"h":3.926,"l":3.918,"c":3.922},
      {"day":16.1875,"o":3.922,"h":3.933,"l":3.919,"c":3.928},
      {"day":16.2083,"o":3.928,"h":3.934,"l":3.927,"c":3.930},
      {"day":16.2292,"o":3.930,"h":3.930,"l":3.917,"c":3.920},
      {"day":16.25,"o":3.920,"h":3.922,"l":3.914,"c":3.916},
      {"day":16.2708,"o":3.916,"h":3.919,"l":3.911,"c":3.912},
      {"day":16.2917,"o":3.912,"h":3.922,"l":3.911,"c":3.920},
      {"day":16.3125,"o":3.920,"h":3.930,"l":3.919,"c":3.928},
      {"day":16.3333,"o":3.928,"h":3.933,"l":3.924,"c":3.925},
      {"day":16.3542,"o":3.925,"h":3.930,"l":3.924,"c":3.928},
      {"day":16.375,"o":3.928,"h":3.932,"l":3.925,"c":3.930},
      {"day":16.3958,"o":3.930,"h":3.933,"l":3.928,"c":3.931},
      {"day":16.4167,"o":3.931,"h":3.932,"l":3.907,"c":3.914},
      {"day":16.4375,"o":3.914,"h":3.914,"l":3.903,"c":3.908},
      {"day":16.4583,"o":3.908,"h":3.919,"l":3.906,"c":3.917},
      {"day":16.4792,"o":3.917,"h":3.920,"l":3.911,"c":3.912},
      {"day":16.5,"o":3.912,"h":3.914,"l":3.905,"c":3.907},
      {"day":16.5208,"o":3.907,"h":3.919,"l":3.904,"c":3.917},
      {"day":16.5417,"o":3.917,"h":3.923,"l":3.913,"c":3.922},
      {"day":16.5625,"o":3.922,"h":3.927,"l":3.918,"c":3.920},
      {"day":16.5833,"o":3.920,"h":3.920,"l":3.913,"c":3.916},
      {"day":16.6042,"o":3.916,"h":3.925,"l":3.914,"c":3.922},
      {"day":16.625,"o":3.922,"h":3.928,"l":3.920,"c":3.924},
      {"day":16.6458,"o":3.924,"h":3.926,"l":3.917,"c":3.919},
      {"day":16.6667,"o":3.919,"h":3.924,"l":3.918,"c":3.923},
      {"day":16.6875,"o":3.923,"h":3.928,"l":3.920,"c":3.921},
      {"day":16.7083,"o":3.921,"h":3.925,"l":3.919,"c":3.920},
      {"day":16.7292,"o":3.920,"h":3.921,"l":3.917,"c":3.918},
      {"day":16.75,"o":3.918,"h":3.923,"l":3.917,"c":3.922},
      {"day":16.7708,"o":3.922,"h":3.927,"l":3.920,"c":3.921},
      {"day":16.7917,"o":3.921,"h":3.924,"l":3.920,"c":3.923},
      {"day":16.8125,"o":3.923,"h":3.930,"l":3.922,"c":3.928},
      {"day":16.8333,"o":3.928,"h":3.929,"l":3.919,"c":3.921},
      {"day":16.8542,"o":3.921,"h":3.929,"l":3.920,"c":3.927},
      {"day":16.875,"o":3.927,"h":3.927,"l":3.920,"c":3.921},
      {"day":16.8958,"o":3.921,"h":3.923,"l":3.919,"c":3.920},
      {"day":16.9167,"o":3.920,"h":3.922,"l":3.912,"c":3.921},
      {"day":16.9375,"o":3.921,"h":3.926,"l":3.917,"c":3.924},
      {"day":16.9583,"o":3.924,"h":3.924,"l":3.916,"c":3.917},
      {"day":16.9792,"o":3.917,"h":3.923,"l":3.916,"c":3.921},
      {"day":17.0,"o":3.921,"h":3.921,"l":3.915,"c":3.916},
      {"day":17.0208,"o":3.916,"h":3.918,"l":3.915,"c":3.917},
      {"day":17.0417,"o":3.917,"h":3.917,"l":3.910,"c":3.911},
      {"day":17.0625,"o":3.911,"h":3.923,"l":3.910,"c":3.920},
      {"day":17.0833,"o":3.920,"h":3.925,"l":3.915,"c":3.922},
      {"day":17.1042,"o":3.922,"h":3.932,"l":3.921,"c":3.930},
      {"day":17.125,"o":3.930,"h":3.933,"l":3.927,"c":3.928},
      {"day":17.1458,"o":3.928,"h":3.940,"l":3.927,"c":3.937},
      {"day":17.1667,"o":3.937,"h":3.945,"l":3.936,"c":3.943},
      {"day":17.1875,"o":3.943,"h":3.957,"l":3.942,"c":3.955},
      {"day":17.2083,"o":3.955,"h":3.959,"l":3.953,"c":3.954},
      {"day":17.2292,"o":3.954,"h":3.955,"l":3.949,"c":3.950},
      {"day":17.25,"o":3.950,"h":3.955,"l":3.949,"c":3.952},
      {"day":17.2708,"o":3.952,"h":3.953,"l":3.944,"c":3.946},
      {"day":17.2917,"o":3.946,"h":3.951,"l":3.941,"c":3.948},
      {"day":17.3125,"o":3.948,"h":3.951,"l":3.944,"c":3.950},
      {"day":17.3333,"o":3.950,"h":3.956,"l":3.946,"c":3.955},
      {"day":17.3542,"o":3.955,"h":3.972,"l":3.954,"c":3.967},
      {"day":17.375,"o":3.967,"h":3.973,"l":3.966,"c":3.970},
      {"day":17.3958,"o":3.970,"h":3.973,"l":3.965,"c":3.968},
      {"day":17.4167,"o":3.968,"h":3.974,"l":3.964,"c":3.973}
    ]
  },
  "layer": [
    {
      "data": {"name": "candles"},
      "mark": {"type": "rule", "strokeWidth": 1},
      "encoding": {
        "x": {
          "field": "day",
          "type": "quantitative",
          "scale": {"domain": [8.135, 17.439], "range": [0, 1764], "nice": false, "zero": false},
          "axis": {
            "title": null,
            "orient": "bottom",
            "offset": -29,
            "values": [9, 10, 11, 12, 13, 14, 15, 16, 17],
            "tickCount": 30,
            "format": "d",
            "grid": true,
            "gridColor": "#242833",
            "gridWidth": 1,
            "domain": true,
            "domainColor": "#2a2e39",
            "ticks": false,
            "tickSize": 0,
            "labelPadding": 14,
            "labelBaseline": "middle",
            "labelFont": "Roboto",
            "labelFontSize": 12,
            "labelColor": "#b2b5be",
            "labelFlush": false,
            "labelOverlap": false
          }
        },
        "y": {
          "field": "l",
          "type": "quantitative",
          "scale": {"domain": [3.7593, 4.1898], "range": [792, 0], "nice": false, "zero": false},
          "axis": {
            "title": null,
            "orient": "right",
            "offset": -51,
            "values": [3.76, 3.78, 3.8, 3.82, 3.84, 3.86, 3.88, 3.9, 3.92, 3.94, 3.96, 3.98, 4, 4.02, 4.04, 4.06, 4.08, 4.1, 4.12, 4.14, 4.16, 4.18],
            "tickCount": 40,
            "labelExpr": "datum.value > 4.17 ? '' : format(datum.value, '.2~f') + '\u2009T'",
            "grid": true,
            "gridColor": "#242833",
            "gridWidth": 1,
            "domain": true,
            "domainColor": "#2a2e39",
            "ticks": false,
            "tickSize": 0,
            "labelPadding": 9,
            "labelFont": "Roboto",
            "labelFontSize": 12,
            "labelColor": "#b2b5be",
            "labelFlush": false,
            "labelOverlap": false
          }
        },
        "y2": {"field": "h"},
        "color": {"condition": {"test": "datum.c >= datum.o", "value": "#22ab94"}, "value": "#f7525f"}
      }
    },
    {
      "data": {"name": "candles"},
      "mark": {"type": "bar", "width": 2.4},
      "encoding": {
        "x": {"field": "day", "type": "quantitative"},
        "y": {"field": "o", "type": "quantitative"},
        "y2": {"field": "c"},
        "color": {"condition": {"test": "datum.c >= datum.o", "value": "#22ab94"}, "value": "#f7525f"}
      }
    },
    {
      "data": {"values": [{}]},
      "mark": {"type": "rule", "color": "#22ab94", "strokeWidth": 1, "strokeDash": [1.5, 2.5]},
      "encoding": {
        "x": {"datum": 8.135, "type": "quantitative"},
        "x2": {"datum": 17.439},
        "y": {"datum": 3.9733, "type": "quantitative"}
      }
    },
    {
      "data": {"values": [{}]},
      "mark": {"type": "rule", "color": "#2a2e39", "strokeWidth": 1},
      "encoding": {"y": {"datum": 3.7593, "type": "quantitative"}}
    },
    {
      "data": {"values": [{}]},
      "mark": {"type": "rule", "color": "#2a2e39", "strokeWidth": 1},
      "encoding": {"x": {"datum": 17.439, "type": "quantitative"}}
    },
    {
      "data": {"values": [{}]},
      "mark": {"type": "text", "align": "left", "baseline": "middle", "font": "Roboto", "fontSize": 11.5, "color": "#c3c6ce", "text": "Crypto Total Market Cap, $ · 15 · CRYPTOCAP"},
      "encoding": {"x": {"datum": 8.1877, "type": "quantitative"}, "y": {"datum": 4.1822, "type": "quantitative"}}
    },
    {
      "data": {"values": [{}]},
      "mark": {"type": "text", "align": "left", "baseline": "middle", "font": "Roboto", "fontSize": 11.5, "color": "#c3c6ce", "text": "O"},
      "encoding": {"x": {"datum": 9.5011, "type": "quantitative"}, "y": {"datum": 4.1822, "type": "quantitative"}}
    },
    {
      "data": {"values": [{}]},
      "mark": {"type": "text", "align": "left", "baseline": "middle", "font": "Roboto", "fontSize": 11.5, "color": "#22ab94", "text": "3.97\u2009T"},
      "encoding": {"x": {"datum": 9.5459, "type": "quantitative"}, "y": {"datum": 4.1822, "type": "quantitative"}}
    },
    {
      "data": {"values": [{}]},
      "mark": {"type": "text", "align": "left", "baseline": "middle", "font": "Roboto", "fontSize": 11.5, "color": "#c3c6ce", "text": "H"},
      "encoding": {"x": {"datum": 9.7411, "type": "quantitative"}, "y": {"datum": 4.1822, "type": "quantitative"}}
    },
    {
      "data": {"values": [{}]},
      "mark": {"type": "text", "align": "left", "baseline": "middle", "font": "Roboto", "fontSize": 11.5, "color": "#22ab94", "text": "3.98\u2009T"},
      "encoding": {"x": {"datum": 9.7859, "type": "quantitative"}, "y": {"datum": 4.1822, "type": "quantitative"}}
    },
    {
      "data": {"values": [{}]},
      "mark": {"type": "text", "align": "left", "baseline": "middle", "font": "Roboto", "fontSize": 11.5, "color": "#c3c6ce", "text": "L"},
      "encoding": {"x": {"datum": 9.9810, "type": "quantitative"}, "y": {"datum": 4.1822, "type": "quantitative"}}
    },
    {
      "data": {"values": [{}]},
      "mark": {"type": "text", "align": "left", "baseline": "middle", "font": "Roboto", "fontSize": 11.5, "color": "#22ab94", "text": "3.97\u2009T"},
      "encoding": {"x": {"datum": 10.0153, "type": "quantitative"}, "y": {"datum": 4.1822, "type": "quantitative"}}
    },
    {
      "data": {"values": [{}]},
      "mark": {"type": "text", "align": "left", "baseline": "middle", "font": "Roboto", "fontSize": 11.5, "color": "#c3c6ce", "text": "C"},
      "encoding": {"x": {"datum": 10.2105, "type": "quantitative"}, "y": {"datum": 4.1822, "type": "quantitative"}}
    },
    {
      "data": {"values": [{}]},
      "mark": {"type": "text", "align": "left", "baseline": "middle", "font": "Roboto", "fontSize": 11.5, "color": "#22ab94", "text": "3.97\u2009T"},
      "encoding": {"x": {"datum": 10.2553, "type": "quantitative"}, "y": {"datum": 4.1822, "type": "quantitative"}}
    },
    {
      "data": {"values": [{}]},
      "mark": {"type": "text", "align": "left", "baseline": "middle", "font": "Roboto", "fontSize": 11.5, "color": "#22ab94", "text": "+3.53\u2009B (+0.09%)"},
      "encoding": {"x": {"datum": 10.4531, "type": "quantitative"}, "y": {"datum": 4.1822, "type": "quantitative"}}
    },
    {
      "data": {"values": [{}]},
      "mark": {"type": "rect", "fill": "#0f0f0f", "stroke": "#3a3d45", "strokeWidth": 1, "cornerRadius": 4},
      "encoding": {
        "x": {"datum": 17.4603, "type": "quantitative"},
        "x2": {"datum": 17.6924},
        "y": {"datum": 4.18763, "type": "quantitative"},
        "y2": {"datum": 4.17349}
      }
    },
    {
      "data": {"values": [{}]},
      "mark": {"type": "text", "align": "center", "baseline": "middle", "font": "Roboto", "fontSize": 12, "fontWeight": 500, "color": "#e8e8e8", "text": "USD"},
      "encoding": {"x": {"datum": 17.5762, "type": "quantitative"}, "y": {"datum": 4.18056, "type": "quantitative"}}
    },
    {
      "data": {"values": [{}]},
      "mark": {"type": "rect", "fill": "#22ab94", "cornerRadius": 2},
      "encoding": {
        "x": {"datum": 17.4445, "type": "quantitative"},
        "x2": {"datum": 17.6819},
        "y": {"datum": 3.97672, "type": "quantitative"},
        "y2": {"datum": 3.96802}
      }
    },
    {
      "data": {"values": [{}]},
      "mark": {"type": "text", "align": "center", "baseline": "middle", "font": "Roboto", "fontSize": 12, "fontWeight": "bold", "color": "#ffffff", "text": "3.97\u2009T"},
      "encoding": {"x": {"datum": 17.5604, "type": "quantitative"}, "y": {"datum": 3.97237, "type": "quantitative"}}
    },
    {
      "data": {"values": [{}]},
      "mark": {"type": "rect", "fill": "#141823", "stroke": "#22ab94", "strokeWidth": 1, "cornerRadius": 2},
      "encoding": {
        "x": {"datum": 17.4445, "type": "quantitative"},
        "x2": {"datum": 17.6819},
        "y": {"datum": 3.96694, "type": "quantitative"},
        "y2": {"datum": 3.95933}
      }
    },
    {
      "data": {"values": [{}]},
      "mark": {"type": "text", "align": "center", "baseline": "middle", "font": "Roboto", "fontSize": 12, "color": "#22ab94", "text": "3.97\u2009T"},
      "encoding": {"x": {"datum": 17.5604, "type": "quantitative"}, "y": {"datum": 3.96313, "type": "quantitative"}}
    },
    {
      "data": {"values": [{}]},
      "mark": {
        "type": "point",
        "shape": "M-1,-0.69H-0.3V0.69H-0.62V-0.25H-1Z M-0.3,-0.45A0.22,0.22 0 1 0 0.14,-0.45A0.22,0.22 0 1 0 -0.3,-0.45Z M0.55,-0.69H1L0.4,0.69H-0.05Z",
        "filled": true,
        "size": 676,
        "color": "#eaeaea",
        "opacity": 1,
        "strokeWidth": 0
      },
      "encoding": {"x": {"datum": 8.2194, "type": "quantitative"}, "y": {"datum": 3.72724, "type": "quantitative"}}
    },
    {
      "data": {"values": [{}]},
      "mark": {"type": "text", "align": "left", "baseline": "middle", "font": "Roboto", "fontSize": 21, "fontWeight": "bold", "color": "#eaeaea", "text": "TradingView"},
      "encoding": {"x": {"datum": 8.3196, "type": "quantitative"}, "y": {"datum": 3.72724, "type": "quantitative"}}
    }
  ]
}
